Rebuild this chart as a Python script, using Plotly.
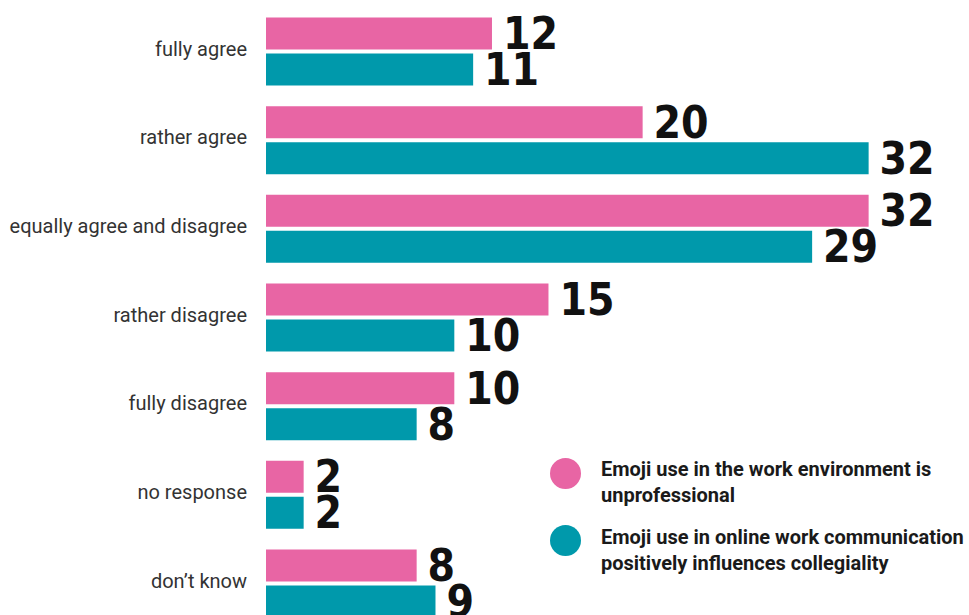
import plotly.graph_objects as go

# Survey answers and percentage shares for the two statements
categories = ["fully agree", "rather agree", "equally agree and disagree",
              "rather disagree", "fully disagree", "no response", "don’t know"]
unprofessional = [12, 20, 32, 15, 10, 2, 8]
collegiality = [11, 32, 29, 10, 8, 2, 9]
series_names = ["Emoji use in the work environment is<br>unprofessional",
                "Emoji use in online work communication<br>positively influences collegiality"]

PINK = "#E865A4"
TEAL = "#0099AB"
value_font = dict(family="DejaVu Sans Condensed, DejaVu Sans, Roboto",
                  size=44, color="#111111", weight="bold")

fig = go.Figure()
for vals, color in [(unprofessional, PINK), (collegiality, TEAL)]:
    fig.add_trace(go.Bar(
        y=categories, x=vals, orientation="h",
        marker=dict(color=color, line=dict(width=0)),
        text=vals, texttemplate="\u2009%{x}", textposition="outside",
        textfont=value_font, constraintext="none", cliponaxis=False,
        showlegend=False, hoverinfo="skip",
    ))

# Hand-drawn legend: large round swatches with two-line labels
legend_rows = [(473.5, 482, PINK, series_names[0]), (540.5, 549.5, TEAL, series_names[1])]
W, H, L = 969, 615, 266
for cy, ty, color, name in legend_rows:
    fig.add_shape(type="circle", xref="paper", yref="paper",
                  xsizemode="pixel", ysizemode="pixel",
                  xanchor=(565.5 - L) / (W - L), yanchor=1 - cy / H,
                  x0=-15.5, x1=15.5, y0=-15.5, y1=15.5,
                  fillcolor=color, line=dict(width=0))
    fig.add_annotation(xref="paper", yref="paper",
                       x=(599 - L) / (W - L), y=1 - ty / H,
                       xanchor="left", yanchor="middle", align="left",
                       showarrow=False, text=name,
                       font=dict(family="Roboto", size=20, color="#1a1a1a", weight="bold"))

fig.update_layout(
    width=W, height=H,
    margin=dict(l=L, r=0, t=0, b=0),
    paper_bgcolor="white", plot_bgcolor="white",
    barmode="group", bargap=0.188, bargroupgap=0.111,
    xaxis=dict(range=[0, 37.33], visible=False, showgrid=False, zeroline=False),
    yaxis=dict(type="category", categoryorder="array", categoryarray=categories,
               range=[6.355, -0.581], showgrid=False, zeroline=False, showline=False,
               ticks="", ticklabelstandoff=18, ticklabelshift=3,
               tickfont=dict(family="Roboto", size=20, color="#333333")),
)

fig.write_html("out.html")
